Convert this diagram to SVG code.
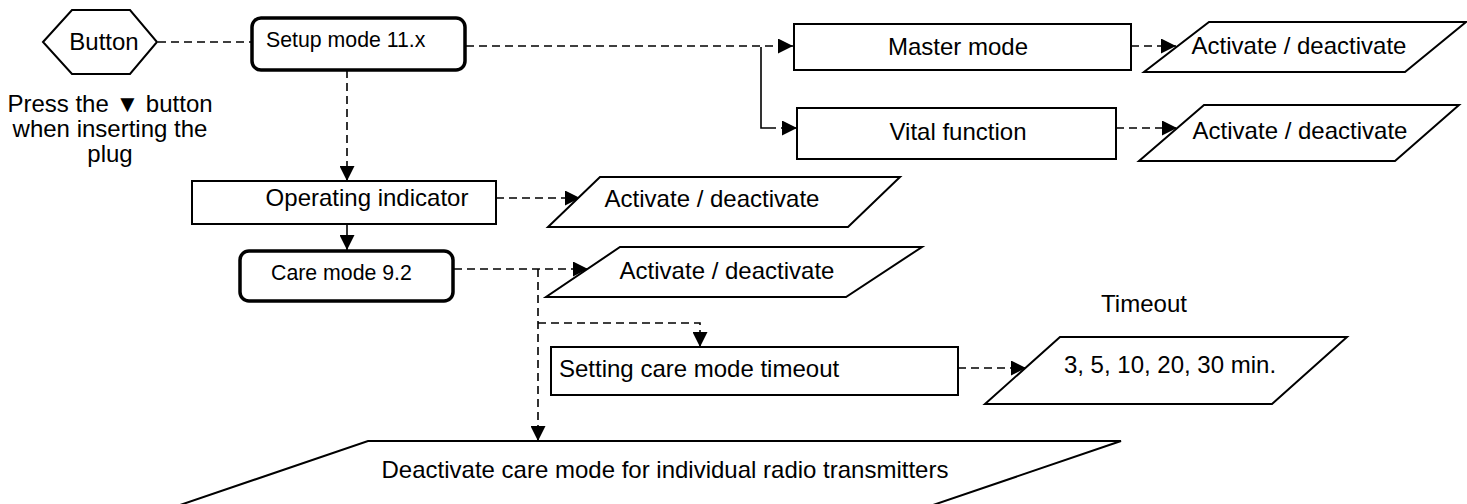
<svg xmlns="http://www.w3.org/2000/svg" width="1467" height="504" viewBox="0 0 1467 504">
<style>
text{font-family:"Liberation Sans",Arial,sans-serif;font-size:24px;fill:#000}
.sm{font-size:21.3px}
.box{fill:#fff;stroke:#000;stroke-width:2}
.rbox{fill:#fff;stroke:#000;stroke-width:3.5}
.io{fill:#fff;stroke:#000;stroke-width:2}
.d{fill:none;stroke:#000;stroke-width:1.6;stroke-dasharray:8,5}
.s{fill:none;stroke:#000;stroke-width:1.6}
.m{text-anchor:middle}
</style>
<defs>
<marker id="ah" markerUnits="userSpaceOnUse" markerWidth="15" markerHeight="15" refX="15" refY="7.5" orient="auto" viewBox="0 0 15 15">
<path d="M0,0 L15,7.5 L0,15 z" fill="#000"/>
</marker>
</defs>
<g id="connectors">
<path class="d" d="M158,42 H252"/>
<path class="d" d="M466,46 H793" marker-end="url(#ah)"/>
<path class="s" d="M761,47 V128 H768"/>
<path class="d" d="M768,128 H797" marker-end="url(#ah)"/>
<path class="d" d="M1131,46 H1176" marker-end="url(#ah)"/>
<path class="d" d="M1116,128 H1177" marker-end="url(#ah)"/>
<path class="d" d="M347,70 V181" marker-end="url(#ah)"/>
<path class="d" d="M496,198 H580" marker-end="url(#ah)"/>
<path class="s" d="M347,224 V250" marker-end="url(#ah)"/>
<path class="d" d="M454,269 H588" marker-end="url(#ah)"/>
<path class="d" d="M538,269 V441" marker-end="url(#ah)"/>
<path class="d" d="M538,323 H700 V347" marker-end="url(#ah)"/>
<path class="d" d="M958,368 H1026" marker-end="url(#ah)"/>
</g>
<g id="button">
<polygon class="box" points="43,42 72,10 130,10 157,42 130,74 72,74"/>
<text class="m" x="104" y="50">Button</text>
</g>
<g id="press-note">
<text class="m" x="110" y="112">Press the ▼ button</text>
<text class="m" x="110" y="137">when inserting the</text>
<text class="m" x="110" y="162">plug</text>
</g>
<g id="setup">
<rect class="rbox" x="252" y="18" width="213" height="52" rx="9"/>
<text class="sm" x="266" y="47">Setup mode 11.x</text>
</g>
<g id="master">
<rect class="box" x="794" y="24" width="337" height="46"/>
<text class="m" x="958" y="55">Master mode</text>
</g>
<g id="master-io">
<polygon class="io" points="1209,22 1466,22 1405,72 1144,72"/>
<text class="m" x="1299" y="54">Activate / deactivate</text>
</g>
<g id="vital">
<rect class="box" x="797" y="108" width="319" height="51"/>
<text class="m" x="958" y="140">Vital function</text>
</g>
<g id="vital-io">
<polygon class="io" points="1204,105 1459,105 1395,161 1139,161"/>
<text class="m" x="1300" y="139">Activate / deactivate</text>
</g>
<g id="operating">
<rect class="box" x="192" y="181" width="304" height="43"/>
<text class="m" x="367" y="206">Operating indicator</text>
</g>
<g id="operating-io">
<polygon class="io" points="600,177 900,177 848,227 548,227"/>
<text class="m" x="712" y="207">Activate / deactivate</text>
</g>
<g id="care">
<rect class="rbox" x="240" y="251" width="213" height="50" rx="9"/>
<text class="sm" x="271" y="280">Care mode 9.2</text>
</g>
<g id="care-io">
<polygon class="io" points="620,247 922,247 846,297 546,297"/>
<text class="m" x="727" y="279">Activate / deactivate</text>
</g>
<g id="timeout-setting">
<rect class="box" x="551" y="347" width="407" height="48"/>
<text x="559" y="377">Setting care mode timeout</text>
</g>
<g id="timeout-label">
<text class="m" x="1144" y="312">Timeout</text>
</g>
<g id="timeout-io">
<polygon class="io" points="1060,337 1347,337 1272,404 985,404"/>
<text class="m" x="1170" y="373">3, 5, 10, 20, 30 min.</text>
</g>
<g id="radio-io">
<polygon class="io" points="368,441 1121,441 889,520 136,520"/>
<text class="m" x="665" y="478">Deactivate care mode for individual radio transmitters</text>
</g>
</svg>
